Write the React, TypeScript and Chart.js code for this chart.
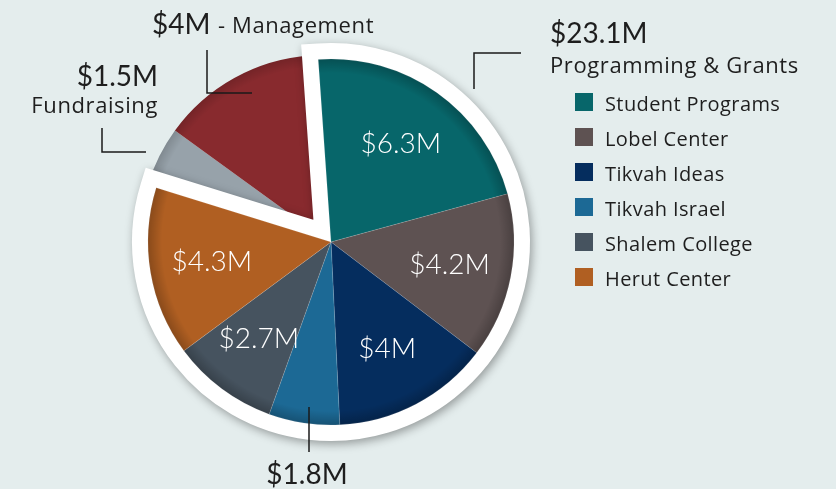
import React, { useEffect, useRef } from "react";
import { Chart, registerables } from "chart.js";

Chart.register(...registerables);

// ---------- data ----------
const programLabels = ["Student Programs", "Lobel Center", "Tikvah Ideas", "Tikvah Israel", "Shalem College", "Herut Center"];
const programValues = [6.3, 4.2, 4, 1.8, 2.7, 4.3];
const programColors = ["#07666a", "#5e5252", "#052d5e", "#1c6995", "#46535f", "#b05f22"];
const programValueText = ["$6.3M", "$4.2M", "$4M", "$1.8M", "$2.7M", "$4.3M"];
const programLabelInside = [true, true, true, false, true, true];

const supportLabels = ["Fundraising", "Management"];
const supportValues = [1.5, 4];
const supportColors = ["#97a2aa", "#882a2e"];
const supportValueText = ["$1.5M", "$4M"];

const programTotalText = "$23.1M";
const programGroupTitle = "Programming & Grants";

// ---------- styling ----------
const CLEAR = "rgba(0,0,0,0)";
const ROTATION = -4;
const RADIUS = 183;
const SIZE = 460;
const VALUE_FONT = "Lato, 'Open Sans', sans-serif";
const WORD_FONT = "'Open Sans', Lato, sans-serif";
const TEXT = "#1e1e1e";
const BG = "#e4eded";

const allLabels = [...programLabels, ...supportLabels];
const allValues = [...programValues, ...supportValues];
const programSum = programValues.reduce((a, b) => a + b, 0);

const insideLabelPlugin = {
  id: "insideLabels",
  afterDatasetsDraw(chart: any) {
    const meta = chart.getDatasetMeta(0);
    const ctx = chart.ctx;
    const first = meta.data[0];
    if (!first) return;
    const { x: cx, y: cy, outerRadius: R } = first.getProps(["x", "y", "outerRadius"], true);
    // soft inner shading along the rim
    ctx.save();
    ctx.globalCompositeOperation = "source-atop";
    const g = ctx.createRadialGradient(cx, cy, R - 14, cx, cy, R);
    g.addColorStop(0, "rgba(0,0,0,0)");
    g.addColorStop(1, "rgba(0,0,0,0.22)");
    ctx.fillStyle = g;
    ctx.fillRect(0, 0, chart.width, chart.height);
    ctx.restore();

    ctx.save();
    ctx.fillStyle = "#ffffff";
    ctx.font = "300 28px Lato";
    ctx.textAlign = "center";
    ctx.textBaseline = "middle";
    meta.data.forEach((arc: any, i: number) => {
      if (i >= programValues.length || !programLabelInside[i]) return;
      const { x, y, startAngle, endAngle, outerRadius } = arc.getProps(
        ["x", "y", "startAngle", "endAngle", "outerRadius"],
        true
      );
      const mid = (startAngle + endAngle) / 2;
      const r = outerRadius * 0.66;
      ctx.fillText(programValueText[i], x + Math.cos(mid) * r, y + Math.sin(mid) * r);
    });
    ctx.restore();
  },
};

const rimShadePlugin = {
  id: "rimShade",
  afterDatasetsDraw(chart: any) {
    const meta = chart.getDatasetMeta(0);
    const first = meta.data[0];
    if (!first) return;
    const ctx = chart.ctx;
    const { x: cx, y: cy, outerRadius: R } = first.getProps(["x", "y", "outerRadius"], true);
    ctx.save();
    ctx.globalCompositeOperation = "source-atop";
    const g = ctx.createRadialGradient(cx, cy, R - 12, cx, cy, R);
    g.addColorStop(0, "rgba(0,0,0,0)");
    g.addColorStop(1, "rgba(0,0,0,0.15)");
    ctx.fillStyle = g;
    ctx.fillRect(0, 0, chart.width, chart.height);
    ctx.restore();
  },
};

type LayerProps = {
  left: number;
  top: number;
  labels: string[];
  data: number[];
  colors: string[];
  borderColors: string[];
  borderWidths: number[];
  plugin?: any;
  filter?: string;
};

function PieLayer({ left, top, labels, data, colors, borderColors, borderWidths, plugin, filter }: LayerProps) {
  const ref = useRef<HTMLCanvasElement>(null);
  useEffect(() => {
    const chart = new Chart(ref.current as HTMLCanvasElement, {
      type: "pie",
      data: {
        labels,
        datasets: [
          {
            data,
            backgroundColor: colors,
            borderColor: borderColors,
            borderWidth: borderWidths,
            borderJoinStyle: "miter",
            borderAlign: "center",
            hoverOffset: 0,
            radius: RADIUS,
          } as any,
        ],
      },
      options: {
        responsive: false,
        animation: false,
        devicePixelRatio: 1,
        events: [],
        rotation: ROTATION,
        radius: RADIUS,
        layout: { padding: 0 },
        plugins: { legend: { display: false }, tooltip: { enabled: false } },
      } as any,
      plugins: plugin ? [plugin] : [],
    });
    return () => chart.destroy();
  }, []);
  return (
    <canvas
      ref={ref}
      width={SIZE}
      height={SIZE}
      style={{ position: "absolute", left, top, width: SIZE, height: SIZE, filter }}
    />
  );
}

export default function App() {
  const progCx = 331;
  const progCy = 242;
  const supCx = 323;
  const supCy = 238;
  return (
    <div
      style={{
        position: "absolute",
        left: 0,
        top: 0,
        width: 836,
        height: 489,
        background: BG,
        overflow: "hidden",
        fontFamily: WORD_FONT,
      }}
    >
      {/* Fundraising + Management */}
      <PieLayer
        left={supCx - SIZE / 2}
        top={supCy - SIZE / 2}
        labels={allLabels}
        data={allValues}
        colors={[...programValues.map(() => CLEAR), ...supportColors]}
        borderColors={allValues.map(() => CLEAR)}
        borderWidths={allValues.map(() => 0)}
        plugin={rimShadePlugin}
      />
      {/* white backing of the programming group */}
      <PieLayer
        left={progCx - SIZE / 2}
        top={progCy - SIZE / 2}
        labels={["Programming & Grants", ...supportLabels]}
        data={[programSum, ...supportValues]}
        colors={["#ffffff", CLEAR, CLEAR]}
        borderColors={["#ffffff", CLEAR, CLEAR]}
        borderWidths={[32, 0, 0]}
        filter="drop-shadow(2px 3px 5px rgba(0,0,0,0.35))"
      />
      {/* programming slices */}
      <PieLayer
        left={progCx - SIZE / 2}
        top={progCy - SIZE / 2}
        labels={allLabels}
        data={allValues}
        colors={[...programColors, ...supportValues.map(() => CLEAR)]}
        borderColors={[...programValues.map(() => "rgba(255,255,255,0.25)"), ...supportValues.map(() => CLEAR)]}
        borderWidths={[...programValues.map(() => 0.5), ...supportValues.map(() => 0)]}
        plugin={insideLabelPlugin}
      />

      <svg width={836} height={489} style={{ position: "absolute", left: 0, top: 0 }}>
        <g fill="none" stroke="#1a1a1a" strokeWidth={1.5}>
          <path d="M207,50 V93 H252" />
          <path d="M102,128 V152 H146" />
          <path d="M474,89 V53 H521" />
          <path d="M309,407 V452" />
        </g>
        <g fill={TEXT} fontFamily={VALUE_FONT} fontSize={28}>
          <text x={152} y={34}>{supportValueText[1]}</text>
          <text x={158} y={86} textAnchor="end">{supportValueText[0]}</text>
          <text x={550} y={43}>{programTotalText}</text>
          <text x={307} y={484} textAnchor="middle">{programValueText[3]}</text>
        </g>
        <g fill={TEXT} fontFamily={WORD_FONT} fontSize={22} letterSpacing={0.6}>
          <text x={218} y={33}>{"- " + supportLabels[1]}</text>
          <text x={158} y={113} textAnchor="end">{supportLabels[0]}</text>
          <text x={550} y={73}>{programGroupTitle}</text>
        </g>
        {programLabels.map((lab, i) => (
          <g key={lab}>
            <rect x={575} y={93 + i * 35} width={18} height={18} fill={programColors[i]} />
            <text x={605} y={111 + i * 35} fontSize={20} letterSpacing={0.4} fill={TEXT} fontFamily={WORD_FONT}>
              {lab}
            </text>
          </g>
        ))}
      </svg>
    </div>
  );
}
